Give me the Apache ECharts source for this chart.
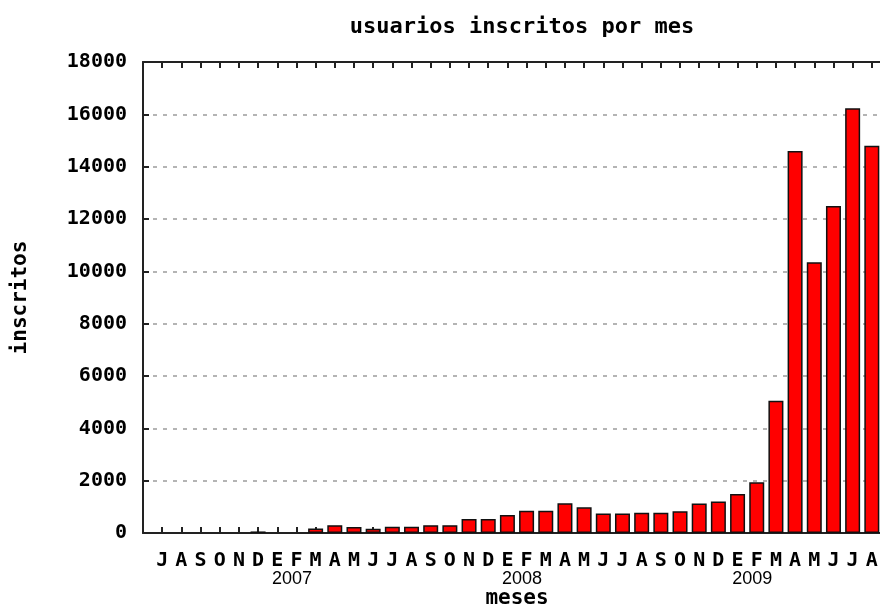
<!DOCTYPE html>
<html>
<head>
<meta charset="utf-8">
<script src="https://cdn.jsdelivr.net/npm/echarts@6/dist/echarts.min.js"></script>
<style>
  html, body { margin: 0; padding: 0; background: #fff; }
  #chart { width: 880px; height: 605px; }
</style>
</head>
<body>
<div id="chart"></div>
<script>
// meses desde julio 2006 hasta agosto 2009
var months = ['J','A','S','O','N','D',
  'E','F','M','A','M','J','J','A','S','O','N','D',
  'E','F','M','A','M','J','J','A','S','O','N','D',
  'E','F','M','A','M','J','J','A'];
var inscritos = [0, 0, 0, 0, 0, 60,
  0, 0, 170, 300, 230, 165, 240, 240, 300, 300, 535, 535,
  690, 850, 850, 1135, 980, 750, 750, 770, 770, 830, 1130, 1200,
  1490, 1940, 5050, 14600, 10350, 12500, 16230, 14800];
var years = ['2007', '2008', '2009'];
var yearMonthIdx = [7, 19, 31];   // etiqueta del año bajo febrero
var yTicks = [0, 2000, 4000, 6000, 8000, 10000, 12000, 14000, 16000, 18000];

// eje con un hueco al principio y al final (como el grafico original)
var cats = [''].concat(months).concat(['']);
var yearCats = cats.map(function () { return ''; });
years.forEach(function (y, i) { yearCats[yearMonthIdx[i] + 1] = y; });
var barData = ['-'].concat(inscritos.map(function (v) { return v > 0 ? v : '-'; })).concat(['-']);

var mono = "'DejaVu Sans Mono', monospace";
var chart = echarts.init(document.getElementById('chart'));
chart.setOption({
    animation: false,
    backgroundColor: '#fff',
    title: {
        text: 'usuarios inscritos por mes',
        left: 517,
        top: 11,
        textAlign: 'center',
        textStyle: {fontFamily: mono, fontWeight: 'bold', fontSize: 22, color: '#000'}
    },
    grid: {left: 143, top: 62, width: 748, height: 471, outerBoundsMode: 'none', containLabel: false},
    xAxis: [{
        type: 'category',
        data: cats,
        boundaryGap: false,
        position: 'bottom',
        name: 'meses',
        nameLocation: 'middle',
        nameGap: 55,
        nameTextStyle: {fontFamily: mono, fontWeight: 'bold', fontSize: 21, color: '#000'},
        axisLine: {lineStyle: {color: '#222', width: 2}},
        axisTick: {inside: true, length: 6, interval: 0, lineStyle: {color: '#222', width: 2}},
        axisLabel: {interval: 0, margin: 18, fontFamily: mono, fontWeight: 'bold', fontSize: 20, color: '#000'},
        splitLine: {show: false}
    }, {
        type: 'category',
        data: cats,
        boundaryGap: false,
        position: 'top',
        axisLine: {lineStyle: {color: '#222', width: 2}},
        axisTick: {inside: true, length: 6, interval: 0, lineStyle: {color: '#222', width: 2}},
        axisLabel: {show: false},
        splitLine: {show: false}
    }, {
        type: 'category',
        data: yearCats,
        boundaryGap: false,
        position: 'bottom',
        offset: 37,
        axisLine: {show: false},
        axisTick: {show: false},
        axisLabel: {interval: 0, margin: 0, padding: [0, 9, 0, 0],
            fontFamily: "'Liberation Sans', sans-serif", fontSize: 18, color: '#000'},
        splitLine: {show: false}
    }],
    yAxis: {
        type: 'value',
        min: 0,
        max: 18000,
        interval: 2000,
        name: 'inscritos',
        nameLocation: 'middle',
        nameGap: 112,
        nameTextStyle: {fontFamily: mono, fontWeight: 'bold', fontSize: 21, color: '#000'},
        axisLine: {show: true, lineStyle: {color: '#222', width: 2}},
        axisTick: {show: true, inside: true, length: 6, lineStyle: {color: '#222', width: 2}},
        axisLabel: {margin: 16, fontFamily: mono, fontWeight: 'bold', fontSize: 20, color: '#000',
            formatter: function (v) { return String(v); }},
        splitLine: {show: true, lineStyle: {color: '#b4b4b4', width: 2, type: [4, 6]}}
    },
    series: [{
        name: 'inscritos',
        type: 'bar',
        xAxisIndex: 0,
        data: barData,
        barWidth: 15,
        itemStyle: {color: '#ff0000', borderColor: '#111', borderWidth: 1.5}
    }]
});
</script>
</body>
</html>
